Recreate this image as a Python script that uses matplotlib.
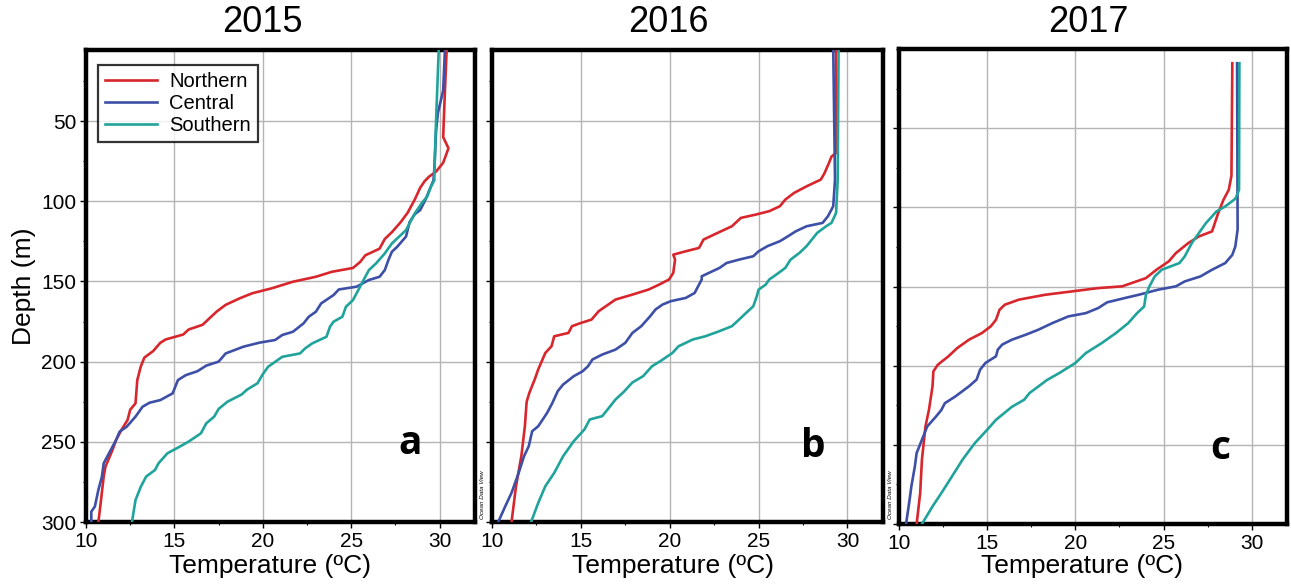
import matplotlib
matplotlib.use('Agg')
import matplotlib.pyplot as plt
from matplotlib.ticker import MultipleLocator, FixedLocator

plt.rcParams['font.family'] = ['Liberation Sans', 'DejaVu Sans']

years = ['2015', '2016', '2017']
panel_letters = ['a', 'b', 'c']
series_names = ['Northern', 'Central', 'Southern']
series_colors = ['#d8262d', '#3d4fa6', '#1fa39a']
x_ticks = [10, 15, 20, 25, 30]
y_ticks = [50, 100, 150, 200, 250, 300]

# ---- 2015 ----
north_2015_depth = [5, 31, 60, 67, 76, 81.5, 84.7, 87.5, 91.6, 98.8, 107, 113, 119.3, 123.5, 129.6, 133.7, 137.9, 141.6, 144, 147.1, 150.2, 154.3, 157.4, 160.5, 164.6, 168.7, 172.8, 177, 180, 183.1, 186.2, 188.3, 193.4, 197.5, 203, 211.5, 226, 230, 236.4, 242.6, 248.9, 255, 265.5, 271.7, 286.3, 300]
north_2015_temp = [30.4, 30.3, 30.2, 30.5, 30.2, 29.8, 29.4, 29.15, 28.9, 28.6, 28.2, 27.8, 27.3, 26.9, 26.6, 25.8, 25.5, 25.1, 23.9, 23.0, 21.7, 20.5, 19.4, 18.7, 17.9, 17.4, 17.0, 16.6, 15.8, 15.5, 14.5, 14.2, 13.8, 13.3, 13.1, 12.9, 12.8, 12.5, 12.35, 12.0, 11.7, 11.5, 11.1, 11.0, 10.85, 10.7]
central_2015_depth = [5, 31, 45, 56, 80, 87, 99, 105.5, 108, 113, 122, 128.4, 131.5, 136.7, 142.9, 147.1, 149.1, 153.3, 155, 158.5, 163.7, 168.9, 172, 176.2, 181.4, 183.4, 186.5, 188.2, 190.7, 194.9, 200, 202.5, 206, 208.4, 211.5, 219.8, 224, 225.6, 228.1, 234.3, 240.6, 243.7, 248.9, 255.1, 263.4, 271.7, 280, 290.4, 293.5, 300]
central_2015_temp = [30.3, 30.2, 29.9, 29.8, 29.7, 29.65, 29.2, 28.9, 28.6, 28.3, 28.1, 27.6, 27.3, 27.1, 26.9, 26.6, 26.0, 25.3, 24.3, 24.0, 23.3, 23.0, 22.6, 22.3, 21.7, 21.1, 20.7, 19.8, 18.9, 17.9, 17.5, 16.8, 16.3, 15.65, 15.2, 14.9, 14.2, 13.6, 13.2, 12.8, 12.3, 11.9, 11.7, 11.4, 11.0, 10.9, 10.7, 10.5, 10.3, 10.3]
south_2015_depth = [5, 49, 83, 87, 91, 97, 101, 107.5, 118, 126.3, 132.5, 138.8, 142.9, 149.1, 155.4, 161.6, 165.8, 172, 175.1, 178.2, 184.5, 188.6, 191.7, 194.9, 197, 200.1, 203.2, 207.8, 213.5, 217.5, 220.5, 225, 229.5, 234.3, 238.5, 244.7, 249.9, 253, 257.2, 263.4, 267.6, 271.7, 278, 286.3, 300]
south_2015_temp = [29.95, 29.8, 29.7, 29.7, 29.5, 29.3, 29.0, 28.6, 28.1, 27.3, 26.9, 26.4, 26.0, 25.7, 25.4, 25.1, 24.7, 24.5, 24.0, 23.8, 23.6, 22.8, 22.4, 22.1, 21.1, 20.7, 20.3, 20.0, 19.7, 19.1, 18.8, 18.0, 17.5, 17.25, 16.8, 16.5, 15.8, 15.3, 14.6, 14.1, 13.9, 13.4, 13.1, 12.8, 12.6]

# ---- 2016 ----
north_2016_depth = [5, 70, 72.2, 76.4, 82.7, 86.5, 90.7, 94.8, 99, 103.1, 106.2, 108.3, 110.4, 115.6, 119.7, 123.9, 126, 129.1, 131.2, 133.3, 136.4, 144.7, 148.8, 152, 155.1, 158.2, 161.3, 165.5, 168.6, 173.8, 175.9, 177.9, 182.1, 184.2, 190.4, 194.6, 204.9, 211.2, 219.5, 225, 240.3, 259, 277.7, 300]
north_2016_temp = [29.35, 29.35, 29.1, 28.95, 28.7, 28.5, 27.7, 27.0, 26.5, 26.2, 25.6, 24.85, 24.0, 23.5, 22.7, 21.9, 21.8, 21.65, 20.9, 20.2, 20.3, 20.2, 19.96, 19.4, 18.8, 17.9, 16.95, 16.4, 16.0, 15.6, 15.0, 14.5, 14.3, 13.5, 13.35, 13.0, 12.6, 12.4, 12.1, 11.95, 11.85, 11.65, 11.35, 11.1]
central_2016_depth = [5, 86.5, 103.1, 109.4, 113.5, 115.6, 118.7, 122.9, 124.9, 128, 131.2, 134.3, 136.4, 138.5, 141.6, 144.7, 146.8, 148.8, 157.2, 160.3, 162.3, 164.4, 167.5, 171.7, 177.9, 182.1, 188.3, 192.5, 195.6, 198.7, 202.9, 206, 209.1, 214.3, 218.4, 225.7, 232, 240.3, 243.4, 252.7, 259, 269.4, 281.8, 290.1, 300]
central_2016_temp = [29.2, 29.3, 29.2, 28.9, 28.6, 27.7, 27.1, 26.5, 26.2, 25.5, 25.0, 24.7, 23.9, 23.2, 22.8, 22.2, 21.8, 21.8, 21.4, 20.9, 20.06, 19.6, 19.2, 18.9, 18.4, 17.9, 17.5, 16.95, 16.2, 15.65, 15.4, 15.1, 14.6, 14.0, 13.7, 13.4, 13.1, 12.6, 12.26, 12.07, 11.8, 11.5, 11.1, 10.75, 10.35]
south_2016_depth = [5, 86.5, 107.3, 113.5, 115.6, 119.7, 128, 132.2, 136.4, 141.6, 145.7, 148.8, 152, 155.1, 159.2, 165.5, 169.6, 173.8, 177.9, 181, 184.2, 186.2, 190.4, 194.6, 199.5, 202.9, 209.1, 213, 219, 223.6, 229.9, 234, 236.1, 242.3, 249.6, 259, 269.4, 277.7, 288.1, 300]
south_2016_temp = [29.5, 29.45, 29.36, 29.1, 28.8, 28.3, 27.7, 27.3, 26.8, 26.5, 26.0, 25.6, 25.4, 25.0, 24.9, 24.7, 24.3, 23.9, 23.5, 22.8, 22.0, 21.3, 20.5, 20.15, 19.5, 19.0, 18.5, 17.9, 17.4, 16.95, 16.5, 16.2, 15.5, 15.2, 14.6, 14.0, 13.5, 13.0, 12.6, 12.2]

# ---- 2017 ----
north_2017_depth = [9, 51, 80, 88.9, 95.2, 99.4, 103.6, 115.2, 118.4, 122.6, 128.9, 134.1, 139.4, 144.7, 147.8, 149.9, 151, 153.1, 155.2, 158.3, 161.5, 164.7, 171, 175.2, 179.4, 183.6, 188.9, 194.1, 199.4, 203.6, 213.1, 227.8, 238.4, 259.4, 280.5, 300]
north_2017_temp = [28.9, 28.87, 28.85, 28.7, 28.4, 28.25, 28.1, 27.75, 27.0, 26.4, 25.7, 25.3, 24.6, 24.0, 23.2, 22.65, 21.3, 19.8, 18.3, 16.8, 16.0, 15.7, 15.5, 15.2, 14.7, 13.97, 13.3, 12.8, 12.2, 11.95, 11.9, 11.7, 11.5, 11.3, 11.2, 11.0]
central_2017_depth = [9, 114, 124.7, 130, 135.2, 139.4, 143.6, 146.8, 149.9, 152, 155.2, 157.3, 160, 163.6, 166.8, 168.9, 173.1, 177.3, 180.4, 183.6, 186.7, 189.9, 194.1, 198.3, 202.5, 208.8, 213, 219.4, 223.7, 228, 232.1, 238.4, 246.8, 255.2, 263.6, 276.3, 284.7, 300]
central_2017_temp = [29.17, 29.2, 29.07, 28.9, 28.5, 27.75, 27.1, 26.2, 25.7, 24.7, 23.6, 22.8, 21.8, 21.3, 20.6, 19.6, 18.7, 17.9, 17.2, 16.4, 15.85, 15.6, 15.5, 14.9, 14.6, 14.4, 13.97, 13.2, 12.6, 12.4, 12.1, 11.6, 11.3, 11.0, 10.9, 10.7, 10.6, 10.4]
south_2017_depth = [9, 88.9, 94, 95.2, 99.4, 102.6, 105.7, 110, 116.3, 122.6, 131, 135.2, 139.4, 143.6, 149.9, 155.2, 162.6, 166.8, 173.1, 179.4, 185.7, 192, 198.3, 204.6, 209, 217.3, 221.5, 226, 234.2, 240.5, 248.9, 259.4, 270, 280.5, 288.9, 300]
south_2017_temp = [29.3, 29.28, 29.1, 29.0, 28.5, 28.0, 27.75, 27.4, 27.0, 26.6, 26.2, 25.9, 24.9, 24.5, 24.2, 24.0, 23.9, 23.5, 23.0, 22.3, 21.5, 20.6, 20.0, 19.1, 18.4, 17.4, 17.1, 16.4, 15.5, 15.0, 14.3, 13.6, 13.0, 12.4, 11.9, 11.3]

profiles = [
    [(north_2015_temp, north_2015_depth), (central_2015_temp, central_2015_depth), (south_2015_temp, south_2015_depth)],
    [(north_2016_temp, north_2016_depth), (central_2016_temp, central_2016_depth), (south_2016_temp, south_2016_depth)],
    [(north_2017_temp, north_2017_depth), (central_2017_temp, central_2017_depth), (south_2017_temp, south_2017_depth)],
]

W, H = 1291, 584
fig = plt.figure(figsize=(W / 100, H / 100), dpi=100)

# pixel boxes (left, right, top, bottom)
boxes = [(86, 475, 50, 522), (492, 883, 50, 522), (899, 1287, 49, 524)]
ytops = [5.7, 5.7, 0]
title_x = [262, 668, 1088]
xlabel_x = [270, 673, 1082]
letter_pos = [(28.3, 251), (28.1, 253), (28.2, 252)]

for i in range(3):
    l, r, t, b = boxes[i]
    ax = fig.add_axes([l / W, 1 - b / H, (r - l) / W, (b - t) / H])
    for (temp, depth), name, col in zip(profiles[i], series_names, series_colors):
        ax.plot(temp, depth, color=col, lw=1.9, label=name, solid_joinstyle='round', zorder=3)
    ax.set_xlim(10, 32)
    ax.set_ylim(300, ytops[i])
    ax.xaxis.set_major_locator(FixedLocator(x_ticks))
    ax.yaxis.set_major_locator(FixedLocator(y_ticks))
    ax.yaxis.set_minor_locator(MultipleLocator(25))
    ax.xaxis.set_minor_locator(MultipleLocator(2.5))
    ax.grid(True, which='major', color='#b4b4b4', lw=1.0, zorder=0)
    ax.set_axisbelow(True)
    for s in ax.spines.values():
        s.set_linewidth(3.2)
        s.set_color('black')
    ax.tick_params(axis='both', which='major', direction='out', length=4, width=1,
                   labelsize=15, pad=3)
    ax.tick_params(axis='both', which='minor', direction='out', length=2.5, width=0.8)
    if i > 0:
        ax.tick_params(axis='y', labelleft=False)
    # x-axis label placed below the tick labels, slightly left of the axes centre as in the original
    fig.text(xlabel_x[i] / W, 1 - 566 / H, 'Temperature (ºC)', fontsize=19, ha='center', va='center')
    ax.text(letter_pos[i][0], letter_pos[i][1], panel_letters[i], fontsize=28,
            fontweight='bold', family=['Open Sans', 'DejaVu Sans'], ha='center', va='center', zorder=5)
    fig.text(title_x[i] / W, 1 - 22 / H, years[i], fontsize=26, ha='center', va='center')
    if i == 0:
        ax.set_ylabel('Depth (m)', fontsize=19, labelpad=4)
        leg = ax.legend(loc='upper left', bbox_to_anchor=(12 / 389, 1 - 15 / 472), borderaxespad=0,
                        fontsize=14.5, frameon=True, fancybox=False, handlelength=2.6,
                        handletextpad=0.6, labelspacing=0.15, borderpad=0.35)
        leg.get_frame().set_edgecolor('black')
        leg.get_frame().set_linewidth(1.6)
    else:
        fig.text((l - 9) / W, 1 - 495 / H, 'Ocean Data View', fontsize=4.5, style='italic',
                 rotation=90, ha='center', va='center')

fig.savefig('out.png', dpi=100)
